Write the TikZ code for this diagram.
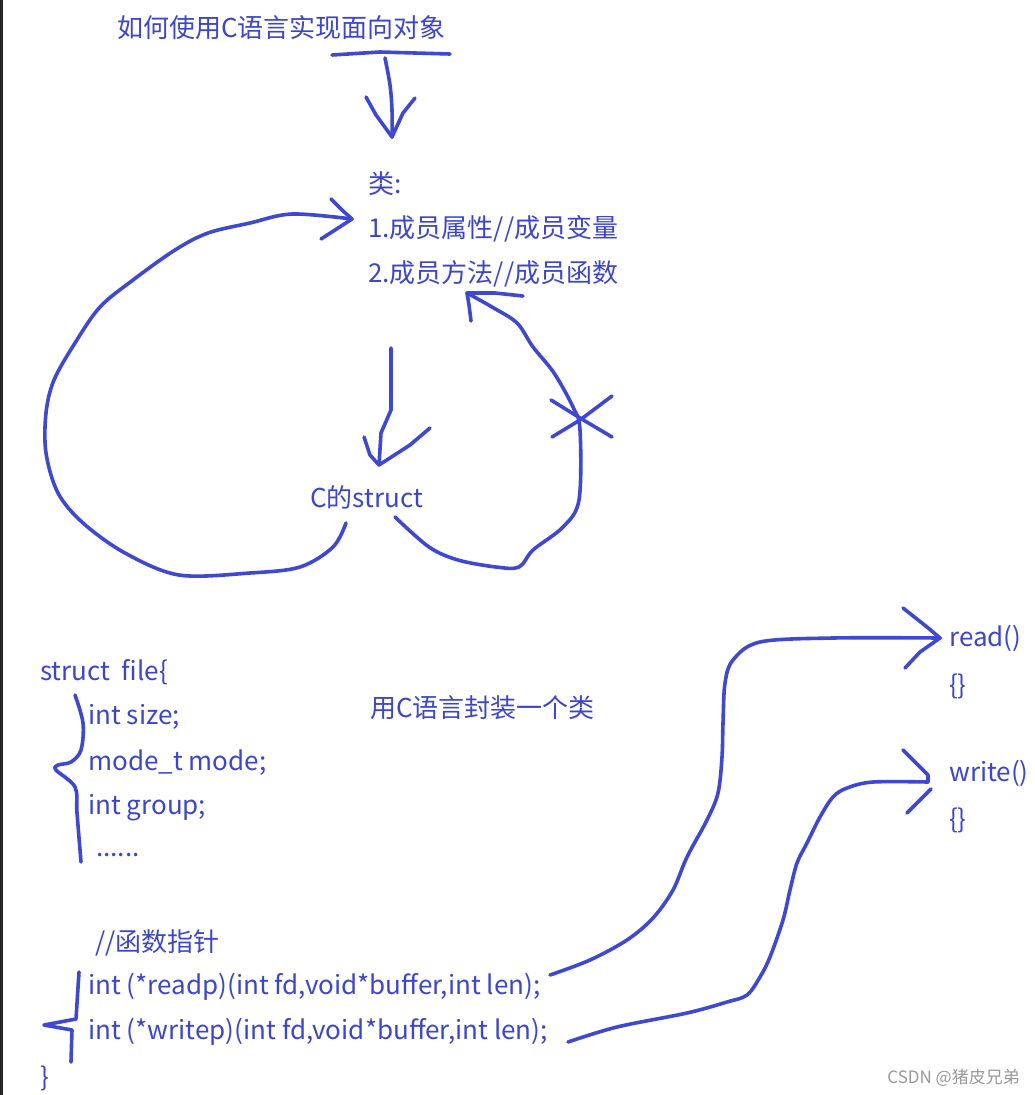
\documentclass[tikz,border=0pt]{standalone}
\usepackage{fontspec}
\setmainfont{Noto Sans CJK SC}
\usepackage{xcolor}
\definecolor{ink}{RGB}{60,70,205}
\definecolor{pen}{RGB}{62,72,208}
\usetikzlibrary{calc}

\begin{document}
\begin{tikzpicture}[
    x=1pt, y=-1pt,
    txt/.style={anchor=west,inner sep=0pt,text=ink,font=\fontsize{26}{30}\selectfont},
    stroke/.style={pen,line width=3.6pt,line cap=round,line join=round},
    hand/.style={stroke,smooth,tension=0.55}
]
\useasboundingbox (0,0) rectangle (1035,1095);
\fill[white] (0,0) rectangle (1035,1095);
\fill[black!85] (0,0) rectangle (2.5,1095);

% upper part: class idea
\node[txt] (title) at (117,28) {如何使用C语言实现面向对象};
\node[txt] (cls)  at (368,184) {类:};
\node[txt] (attr) at (368,229) {1.成员属性//成员变量};
\node[txt] (meth) at (368,274) {2.成员方法//成员函数};
\node[txt] (cst)  at (310,497) {C的struct};

% underline and arrow down to the class
\draw[stroke] (332,55) -- (380,52) -- (450,54);
\coordinate (t1) at (392,137);
\draw[hand] plot coordinates {(385,58) (390,85) (392,110) (t1)};
\draw[stroke] (366,97) -- (376,115) -- (t1) -- (403,113) -- (415,98);

% class -> struct
\coordinate (t2) at (379,465);
\draw[stroke] (391,348) -- (391,410) -- (381,433) -- (t2);
\draw[stroke] (364,437) -- (370,455) -- (t2) -- (410,445) -- (430,428);

% big loop: struct -> member attributes
\coordinate (t3) at (352,219);
\draw[hand] plot coordinates {(346,523) (333,547) (300,567) (250,573) (179,575)
  (125,553) (83,523) (58,493) (46,453) (46,413) (54,380) (75,343) (100,307)
  (133,280) (175,250) (208,233) (250,223) (292,214) (t3)};
\draw[stroke] (331,199) -- (342,210) -- (t3) -- (335,230) -- (321,239);

% right loop: struct -> member methods (crossed out)
\coordinate (t4) at (467,293);
\draw[hand] plot coordinates {(395,517) (429,547) (458,560) (496,567) (519,567)
  (533,550) (563,527) (579,500) (580,430) (573,407) (554,373) (533,347)
  (517,323) (492,307) (t4)};
\draw[stroke] (523,296) -- (495,293) -- (t4) -- (469,305) -- (471,321);
\draw[stroke] (551,400) -- (580,418) -- (612,437);
\draw[stroke] (612,396) -- (580,420) -- (552,437);

% lower part: struct with members
\node[txt] (s0)   at (40,672)  {struct\ \ file\{};
\node[txt] (wrap) at (370,708) {用C语言封装一个类};
\node[txt] (m1)   at (88,717)  {int size;};
\node[txt] (m2)   at (88,763)  {mode\_t mode;};
\node[txt] (m3)   at (88,808)  {int group;};
\node[txt] (m4)   at (96,855)  {......};
\node[txt] (fpc)  at (95,943)  {//函数指针};
\node[txt] (rp)   at (88,987)  {int (*readp)(int fd,void*buffer,int len);};
\node[txt] (wp)   at (88,1032) {int (*writep)(int fd,void*buffer,int len);};
\node[txt] (s1)   at (40,1078) {\}};

\node[txt] (rd)  at (949,638) {read()};
\node[txt] (rdb) at (949,686) {\{\}};
\node[txt] (wr)  at (949,773) {write()};
\node[txt] (wrb) at (949,820) {\{\}};

% braces
\draw[hand] plot coordinates {(75,695) (83,723) (81,750) (71,762) (58,765)
  (56,770) (75,787) (77,813) (81,862)};
\draw[stroke] (79,972) -- (76,1019) -- (44,1025) -- (72,1030) -- (71,1062);

% pointers to functions
\coordinate (t5) at (940,638);
\draw[hand] plot coordinates {(550,975) (590,960) (627,940) (653,918) (673,890)
  (687,857) (707,820) (718,793) (722,757) (723,723) (725,683) (733,660)
  (760,642) (833,638) (t5)};
\draw[stroke] (903,608) -- (927,627) -- (t5) -- (920,652) -- (905,668);

\coordinate (t6) at (928,782);
\draw[hand] plot coordinates {(568,1042) (617,1027) (687,1013) (727,1002)
  (747,995) (760,977) (770,957) (783,920) (790,890) (797,863) (807,843)
  (820,817) (833,797) (847,788) (873,782) (t6)};
\draw[stroke] (903,750) -- (920,767) -- (928,775) -- (t6);
\draw[stroke] (931,789) -- (907,813);

\node[anchor=east,inner sep=0pt,text=black!40,font=\fontsize{17}{19}\selectfont]
  (mark) at (1020,1078) {CSDN @猪皮兄弟};
\end{tikzpicture}
\end{document}
